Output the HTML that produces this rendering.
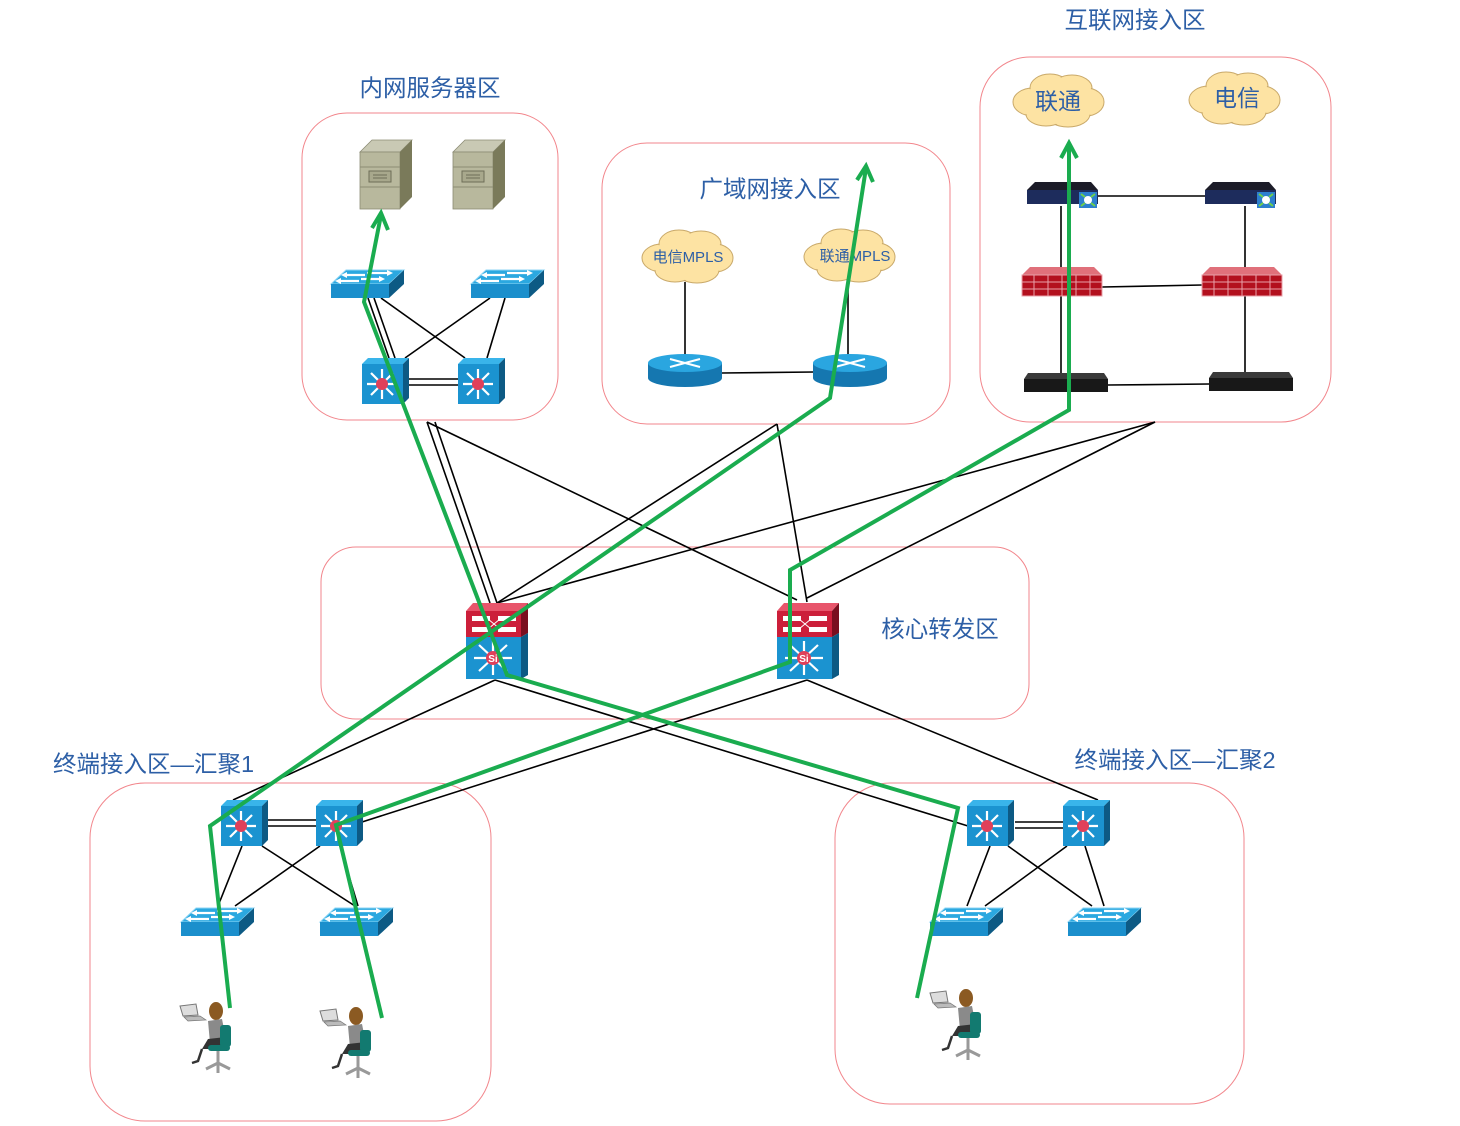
<!DOCTYPE html>
<html><head><meta charset="utf-8"><style>
html,body{margin:0;padding:0;background:#fff;}
svg{display:block;}
text{font-family:"Liberation Sans","Noto Sans CJK SC",sans-serif;fill:#2d5fa6;}
</style></head><body>
<svg width="1460" height="1126" viewBox="0 0 1460 1126" xmlns="http://www.w3.org/2000/svg">
<defs>
<g id="l2">
  <polygon points="0,16 15,2 73,2 58,16" fill="#2ba8e0" stroke="#8fd6f5" stroke-width="1"/>
  <rect x="0" y="16" width="58" height="14" fill="#1b8fcc"/>
  <polygon points="58,16 73,2 73,16 58,30" fill="#0d5a84"/>
  <g stroke="#fff" stroke-width="2.2" fill="#fff">
    <line x1="14" y1="7" x2="34" y2="7"/><polygon points="10,7 16,4 16,10" stroke="none"/>
    <line x1="36" y1="5" x2="58" y2="5"/><polygon points="62,5 56,2 56,8" stroke="none"/>
    <line x1="8" y1="13" x2="28" y2="13"/><polygon points="4,13 10,10 10,16" stroke="none"/>
    <line x1="30" y1="11" x2="50" y2="11"/><polygon points="54,11 48,8 48,14" stroke="none"/>
  </g>
</g>
<g id="l3">
  <polygon points="0,6 6,0 47,0 41,6" fill="#39b4ea"/>
  <rect x="0" y="6" width="41" height="40" fill="#1b93d0"/>
  <polygon points="41,6 47,0 47,40 41,46" fill="#0d5a84"/>
  <g stroke="#fff" stroke-width="2.2">
    <line x1="20" y1="11" x2="20" y2="41"/><line x1="5" y1="26" x2="35" y2="26"/>
    <line x1="9" y1="15" x2="31" y2="37"/><line x1="31" y1="15" x2="9" y2="37"/>
  </g>
  <circle cx="20" cy="26" r="6" fill="#e0405a"/>
</g>
<g id="core">
  <polygon points="0,8 7,0 62,0 55,8" fill="#e8556b"/>
  <rect x="0" y="8" width="55" height="26" fill="#cc1f3a"/>
  <polygon points="55,8 62,0 62,30 55,34" fill="#7a0f1f"/>
  <rect x="6" y="13" width="18" height="5" fill="#fff"/><rect x="32" y="13" width="18" height="5" fill="#fff"/>
  <rect x="6" y="24" width="18" height="5" fill="#fff"/><rect x="32" y="24" width="18" height="5" fill="#fff"/>
  <line x1="22" y1="16" x2="34" y2="26" stroke="#fff" stroke-width="1"/><line x1="22" y1="26" x2="34" y2="16" stroke="#fff" stroke-width="1"/>
  <rect x="0" y="34" width="55" height="42" fill="#1b93d0"/>
  <polygon points="55,34 62,30 62,72 55,76" fill="#0d5a84"/>
  <g stroke="#fff" stroke-width="2.2">
    <line x1="27" y1="38" x2="27" y2="72"/><line x1="8" y1="55" x2="46" y2="55"/>
    <line x1="13" y1="42" x2="41" y2="68"/><line x1="41" y1="42" x2="13" y2="68"/>
  </g>
  <circle cx="27" cy="55" r="7" fill="#e0405a"/>
  <text x="27" y="59" font-size="10" text-anchor="middle" style="fill:#fff" font-weight="bold">Si</text>
</g>
<g id="srv">
  <polygon points="0,12 12,0 52,0 40,12" fill="#c9c9b4" stroke="#8c8c74" stroke-width="0.8"/>
  <rect x="0" y="12" width="40" height="57" fill="#b8b89d" stroke="#8c8c74" stroke-width="0.8"/>
  <polygon points="40,12 52,0 52,57 40,69" fill="#7a7a5a"/>
  <line x1="0" y1="27" x2="40" y2="27" stroke="#8c8c74"/><line x1="0" y1="47" x2="40" y2="47" stroke="#8c8c74"/>
  <rect x="9" y="31" width="22" height="11" fill="#a8a88c" stroke="#6e6e58"/>
  <line x1="13" y1="35" x2="27" y2="35" stroke="#6e6e58"/><line x1="13" y1="38" x2="27" y2="38" stroke="#6e6e58"/>
</g>
<g id="rtr">
  <path d="M0,10 L0,25 A37,9 0 0 0 74,25 L74,10 Z" fill="#1577b0"/>
  <ellipse cx="37" cy="10" rx="37" ry="9" fill="#2aa6e0"/>
  <g stroke="#fff" stroke-width="2"><line x1="22" y1="6" x2="52" y2="14"/><line x1="22" y1="14" x2="52" y2="6"/></g>
</g>
<g id="fw">
  <polygon points="0,8 8,0 72,0 80,8" fill="#e0707a"/>
  <rect x="0" y="8" width="80" height="21" fill="#b3101e" stroke="#e8a0a8" stroke-width="1"/>
  <g stroke="#e8a0a8" stroke-width="1"><line x1="0" y1="15" x2="80" y2="15"/><line x1="0" y1="22" x2="80" y2="22"/>
  <line x1="12" y1="8" x2="12" y2="29"/><line x1="26" y1="8" x2="26" y2="29"/><line x1="40" y1="8" x2="40" y2="29"/><line x1="54" y1="8" x2="54" y2="29"/><line x1="68" y1="8" x2="68" y2="29"/></g>
</g>
<g id="blk">
  <polygon points="4,0 80,0 84,6 0,6" fill="#3a3a3a"/>
  <rect x="0" y="6" width="84" height="13" fill="#181818"/>
</g>
<g id="dev">
  <polygon points="0,8 8,0 64,0 71,8" fill="#1c1c28"/>
  <rect x="0" y="8" width="71" height="14" fill="#1d2c5c"/>
  <rect x="52" y="10" width="18" height="16" fill="#2c7fcf"/>
  <circle cx="61" cy="18" r="4" fill="#fff"/><g stroke="#6fd04a" stroke-width="2"><line x1="54" y1="12" x2="58" y2="15"/><line x1="68" y1="12" x2="64" y2="15"/><line x1="54" y1="24" x2="58" y2="21"/><line x1="68" y1="24" x2="64" y2="21"/></g>
</g>
<g id="person">
  <polygon points="0,5 16,3 18,14 3,15" fill="#ddd" stroke="#777"/>
  <polygon points="4,16 20,15 26,19 8,20" fill="#bbb" stroke="#777" stroke-width="0.7"/>
  <ellipse cx="36" cy="10" rx="7" ry="9" fill="#8b5a22"/>
  <path d="M28,20 L42,18 L46,38 L30,42 Z" fill="#8a8a8a"/>
  <path d="M28,38 L46,36 L44,48 L22,48 Z" fill="#333"/>
  <rect x="40" y="24" width="11" height="22" rx="3" fill="#127a70"/>
  <rect x="28" y="44" width="22" height="6" rx="3" fill="#127a70"/>
  <g stroke="#999" stroke-width="3"><line x1="38" y1="50" x2="38" y2="62"/><line x1="38" y1="62" x2="26" y2="68"/><line x1="38" y1="62" x2="50" y2="68"/><line x1="38" y1="62" x2="38" y2="72"/></g>
  <path d="M22,48 L18,60 L12,62" stroke="#333" stroke-width="2.5" fill="none"/>
</g>
<g id="cl1">
<g fill="#fde3a3" stroke="#c9a96a" stroke-width="1">
  <ellipse cx="-25" cy="2" rx="20" ry="14"/><ellipse cx="-8" cy="-12" rx="20" ry="14"/><ellipse cx="14" cy="-12" rx="20" ry="13"/><ellipse cx="28" cy="2" rx="18" ry="14"/><ellipse cx="10" cy="14" rx="22" ry="13"/><ellipse cx="-12" cy="14" rx="20" ry="12"/>
</g>
<g fill="#fde3a3">
  <ellipse cx="-25" cy="2" rx="19" ry="13"/><ellipse cx="-8" cy="-12" rx="19" ry="13"/><ellipse cx="14" cy="-12" rx="19" ry="12"/><ellipse cx="28" cy="2" rx="17" ry="13"/><ellipse cx="10" cy="14" rx="21" ry="12"/><ellipse cx="-12" cy="14" rx="19" ry="11"/><ellipse cx="0" cy="2" rx="30" ry="16"/>
</g>
</g>
</defs>

<!-- zone boxes -->
<g fill="none" stroke="#f2868c" stroke-width="1">
  <rect x="302" y="113" width="256" height="307" rx="45"/>
  <rect x="602" y="143" width="348" height="281" rx="45"/>
  <rect x="980" y="57" width="351" height="365" rx="50"/>
  <rect x="321" y="547" width="708" height="172" rx="35"/>
  <rect x="90" y="783" width="401" height="338" rx="55"/>
  <rect x="835" y="783" width="409" height="321" rx="55"/>
</g>
<g font-size="23.5">
  <text x="430" y="96" text-anchor="middle">内网服务器区</text>
  <text x="770" y="197" text-anchor="middle">广域网接入区</text>
  <text x="1135" y="28" text-anchor="middle">互联网接入区</text>
  <text x="940" y="637" text-anchor="middle">核心转发区</text>
  <text x="53" y="772">终端接入区—汇聚1</text>
  <text x="1175" y="768" text-anchor="middle">终端接入区—汇聚2</text>
</g>

<!-- black links -->
<g stroke="#000" stroke-width="1.6" fill="none">
  <line x1="368" y1="298" x2="389" y2="358"/><line x1="374" y1="298" x2="395" y2="358"/>
  <line x1="381" y1="298" x2="465" y2="358"/>
  <line x1="490" y1="298" x2="405" y2="358"/><line x1="505" y1="298" x2="487" y2="358"/>
  <line x1="409" y1="379" x2="458" y2="379"/><line x1="409" y1="385" x2="458" y2="385"/>
  <line x1="685" y1="282" x2="685" y2="355"/><line x1="848" y1="282" x2="848" y2="355"/>
  <line x1="722" y1="373" x2="814" y2="372"/>
  <line x1="1061" y1="206" x2="1061" y2="268"/><line x1="1061" y1="296" x2="1061" y2="373"/>
  <line x1="1245" y1="206" x2="1245" y2="268"/><line x1="1245" y1="296" x2="1245" y2="373"/>
  <line x1="1098" y1="196" x2="1205" y2="196"/><line x1="1102" y1="287" x2="1202" y2="285"/>
  <line x1="1108" y1="385" x2="1209" y2="384"/>
  <line x1="427" y1="422" x2="490" y2="603"/><line x1="435" y1="422" x2="497" y2="603"/>
  <line x1="427" y1="422" x2="797" y2="600"/>
  <line x1="777" y1="424" x2="497" y2="603"/><line x1="777" y1="424" x2="807" y2="602"/>
  <line x1="1155" y1="422" x2="497" y2="603"/><line x1="1155" y1="422" x2="807" y2="598"/>
  <line x1="495" y1="680" x2="233" y2="800"/><line x1="495" y1="680" x2="968" y2="826"/>
  <line x1="807" y1="680" x2="362" y2="822"/><line x1="807" y1="680" x2="1098" y2="800"/>
  <line x1="267" y1="820" x2="316" y2="820"/><line x1="267" y1="826" x2="316" y2="826"/>
  <line x1="242" y1="846" x2="218" y2="906"/><line x1="262" y1="846" x2="355" y2="906"/>
  <line x1="320" y1="846" x2="235" y2="906"/><line x1="340" y1="846" x2="358" y2="906"/>
  <line x1="1015" y1="822" x2="1063" y2="822"/><line x1="1015" y1="828" x2="1063" y2="828"/>
  <line x1="990" y1="846" x2="967" y2="906"/><line x1="1008" y1="846" x2="1092" y2="906"/>
  <line x1="1067" y1="846" x2="985" y2="906"/><line x1="1085" y1="846" x2="1104" y2="906"/>
</g>

<!-- devices -->
<use href="#srv" x="360" y="140"/><use href="#srv" x="453" y="140"/>
<use href="#l2" x="331" y="268"/><use href="#l2" x="471" y="268"/>
<use href="#l3" x="362" y="358"/><use href="#l3" x="458" y="358"/>
<use href="#rtr" x="648" y="353"/><use href="#rtr" x="813" y="353"/>
<use href="#dev" x="1027" y="182"/><use href="#dev" x="1205" y="182"/>
<use href="#fw" x="1022" y="267"/><use href="#fw" x="1202" y="267"/>
<use href="#blk" x="1024" y="373"/><use href="#blk" x="1209" y="372"/>
<use href="#core" x="466" y="603"/><use href="#core" x="777" y="603"/>
<use href="#l3" x="221" y="800"/><use href="#l3" x="316" y="800"/>
<use href="#l2" x="181" y="906"/><use href="#l2" x="320" y="906"/>
<use href="#l3" x="967" y="800"/><use href="#l3" x="1063" y="800"/>
<use href="#l2" x="930" y="906"/><use href="#l2" x="1068" y="906"/>
<use href="#person" x="180" y="1001"/><use href="#person" x="320" y="1006"/><use href="#person" x="930" y="988"/>

<!-- clouds -->
<use href="#cl1" x="687" y="256"/>
<use href="#cl1" x="849" y="255"/>
<use href="#cl1" x="1058" y="100"/>
<use href="#cl1" x="1234" y="98"/>
<g font-size="15">
  <text x="688" y="262" text-anchor="middle">电信MPLS</text>
  <text x="855" y="261" text-anchor="middle">联通MPLS</text>
</g>
<g font-size="23">
  <text x="1058" y="109" text-anchor="middle">联通</text>
  <text x="1237" y="106" text-anchor="middle">电信</text>
</g>

<!-- green paths -->
<g stroke="#1aac4f" stroke-width="4" fill="none" stroke-linejoin="miter">
  <polyline points="230,1008 210,826 830,398 866,168"/>
  <polyline points="857,180 866,166 873,182"/>
  <polyline points="382,1018 336,825 790,662 790,570 1069,410 1069,143"/>
  <polyline points="1061,158 1069,143 1077,158"/>
  <polyline points="917,998 958,808 507,675 364,302 381,215"/>
  <polyline points="372,228 381,213 388,230"/>
</g>
</svg>
</body></html>
